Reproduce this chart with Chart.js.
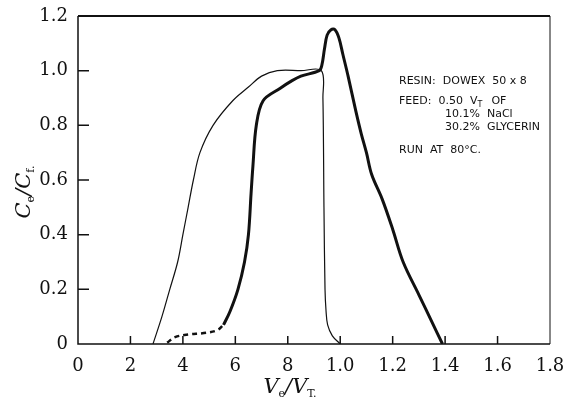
<!DOCTYPE html>
<html>
<head>
<meta charset="utf-8">
<script src="https://cdn.jsdelivr.net/npm/chart.js@4"></script>
<style>
  html, body { margin: 0; padding: 0; background: #fff; }
</style>
</head>
<body>
<canvas id="chart" width="570" height="405"></canvas>
<script>
// thin curve (x = Ve/VT, y = Ce/Cf)
const thinX = [0.286, 0.32, 0.35, 0.38, 0.40, 0.42, 0.44, 0.465, 0.515, 0.59, 0.65, 0.70, 0.76, 0.85, 0.928, 0.934, 0.938, 0.942, 0.946, 0.952, 0.97, 1.0];
const thinY = [0, 0.10, 0.20, 0.30, 0.40, 0.50, 0.60, 0.70, 0.80, 0.89, 0.94, 0.98, 1.0, 1.0, 1.0, 0.9, 0.5, 0.2, 0.12, 0.07, 0.03, 0];

// thick curve, dashed start
const dashX = [0.34, 0.37, 0.42, 0.48, 0.53, 0.555];
const dashY = [0.005, 0.025, 0.035, 0.04, 0.05, 0.07];

// thick curve, solid part
const thickX = [0.555, 0.58, 0.61, 0.635, 0.65, 0.66, 0.667, 0.68, 0.706, 0.77, 0.81, 0.85, 0.92, 0.93, 0.94, 0.95, 0.965, 0.98, 0.995, 1.01, 1.03, 1.06, 1.08, 1.10, 1.12, 1.16, 1.20, 1.24, 1.30, 1.35, 1.39];
const thickY = [0.07, 0.12, 0.20, 0.30, 0.40, 0.55, 0.65, 0.80, 0.89, 0.935, 0.96, 0.98, 1.0, 1.02, 1.08, 1.13, 1.15, 1.15, 1.12, 1.06, 0.98, 0.85, 0.77, 0.70, 0.62, 0.53, 0.42, 0.30, 0.18, 0.08, 0];

const xTickLabels = ['0', '2', '4', '6', '8', '1.0', '1.2', '1.4', '1.6', '1.8'];
const yTickLabels = ['0', '0.2', '0.4', '0.6', '0.8', '1.0', '1.2'];

const noteLines = ['RESIN:  DOWEX  50 x 8', 'FEED:  0.50  V', '10.1%  NaCl', '30.2%  GLYCERIN', 'RUN  AT  80°C.'];

const ink = '#111';

function pts(xs, ys) {
    return xs.map((x, i) => ({ x: x, y: ys[i] }));
}

const framePlugin = {
    id: 'frame',
    afterDraw(chart) {
        const ctx = chart.ctx;
        const a = chart.chartArea;
        const xs = chart.scales.x, ys = chart.scales.y;
        ctx.save();
        ctx.strokeStyle = ink;
        ctx.setLineDash([]);
        // frame
        ctx.lineWidth = 1.5;
        ctx.beginPath();
        ctx.moveTo(a.left, a.top);
        ctx.lineTo(a.left, a.bottom);
        ctx.lineTo(a.right, a.bottom);
        ctx.stroke();
        ctx.lineWidth = 2.2;
        ctx.beginPath();
        ctx.moveTo(a.left, a.top);
        ctx.lineTo(a.right, a.top);
        ctx.stroke();
        ctx.lineWidth = 1;
        ctx.beginPath();
        ctx.moveTo(a.right, a.top);
        ctx.lineTo(a.right, a.bottom);
        ctx.stroke();

        // inward ticks
        ctx.lineWidth = 1.5;
        ctx.beginPath();
        const nx = xTickLabels.length - 1;
        for (let i = 1; i < nx; i++) {
            const px = xs.getPixelForValue(xs.min + i * (xs.max - xs.min) / nx);
            ctx.moveTo(px, a.bottom);
            ctx.lineTo(px, a.bottom - 8);
        }
        const ny = yTickLabels.length - 1;
        for (let i = 1; i < ny; i++) {
            const py = ys.getPixelForValue(ys.min + i * (ys.max - ys.min) / ny);
            ctx.moveTo(a.left, py);
            ctx.lineTo(a.left + 11, py);
        }
        ctx.stroke();

        // axis titles
        ctx.fillStyle = ink;
        ctx.textBaseline = 'alphabetic';
        const big = 'italic 21px "DejaVu Serif"';
        const sub = '11px "DejaVu Serif"';
        function drawParts(parts, x, y) {
            parts.forEach(p => {
                ctx.font = p[1];
                ctx.fillText(p[0], x, y + p[2]);
                x += ctx.measureText(p[0]).width;
            });
            return x;
        }
        function widthOf(parts) {
            let w = 0;
            parts.forEach(p => { ctx.font = p[1]; w += ctx.measureText(p[0]).width; });
            return w;
        }
        const xParts = [['V', big, 0], ['e', sub, 4], ['/', big, 0], ['V', big, 0], ['T.', sub, 4]];
        const xw = widthOf(xParts);
        drawParts(xParts, 290 - xw / 2, 393);

        const yParts = [['C', big, 0], ['e', sub, 4], ['/', big, 0], ['C', big, 0], ['f.', sub, 4]];
        const yw = widthOf(yParts);
        ctx.save();
        ctx.translate(30, 192);
        ctx.rotate(-Math.PI / 2);
        drawParts(yParts, -yw / 2, 0);
        ctx.restore();

        // note block
        const nf = '11px "DejaVu Sans"';
        ctx.font = nf;
        ctx.fillText(noteLines[0], 399, 84);
        const ex = drawParts([[noteLines[1], nf, 0]], 399, 104);
        drawParts([['T', '8px "DejaVu Sans"', 3]], ex, 104);
        ctx.font = nf;
        ctx.fillText('OF', ex + 14, 104);
        ctx.fillText(noteLines[2], 445, 117);
        ctx.fillText(noteLines[3], 445, 130);
        ctx.fillText(noteLines[4], 399, 153);
        ctx.restore();
    }
};

new Chart(document.getElementById('chart'), {
    type: 'scatter',
    data: {
        datasets: [
            {
                data: pts(thinX, thinY),
                showLine: true,
                borderColor: ink,
                borderWidth: 1.2,
                pointRadius: 0,
                tension: 0.35
            },
            {
                data: pts(dashX, dashY),
                showLine: true,
                borderColor: ink,
                borderWidth: 2.5,
                borderDash: [5, 4],
                pointRadius: 0,
                tension: 0.35
            },
            {
                data: pts(thickX, thickY),
                showLine: true,
                borderColor: ink,
                borderWidth: 3,
                pointRadius: 0,
                tension: 0.35
            }
        ]
    },
    options: {
        responsive: false,
        animation: false,
        events: [],
        layout: { padding: { top: 16, right: 20, left: 0, bottom: 0 } },
        plugins: {
            legend: { display: false },
            tooltip: { enabled: false }
        },
        scales: {
            x: {
                type: 'linear',
                min: 0,
                max: 1.8,
                grid: { display: false, drawTicks: false },
                border: { display: false },
                ticks: {
                    stepSize: 0.2,
                    padding: 12,
                    color: ink,
                    font: { family: 'DejaVu Serif', size: 18 },
                    maxRotation: 0,
                    callback: (v, i) => xTickLabels[i]
                },
                afterFit: s => {
                    s.height = 61;
                    s.paddingLeft = 0;
                    s.paddingRight = 0;
                }
            },
            y: {
                type: 'linear',
                min: 0,
                max: 1.2,
                grid: { display: false, drawTicks: false },
                border: { display: false },
                ticks: {
                    stepSize: 0.2,
                    padding: 10,
                    color: ink,
                    font: { family: 'DejaVu Serif', size: 18 },
                    callback: (v, i) => yTickLabels[i]
                },
                afterFit: s => {
                    s.width = 78;
                    s.paddingTop = 0;
                    s.paddingBottom = 0;
                }
            }
        }
    },
    plugins: [framePlugin]
});
</script>
</body>
</html>
